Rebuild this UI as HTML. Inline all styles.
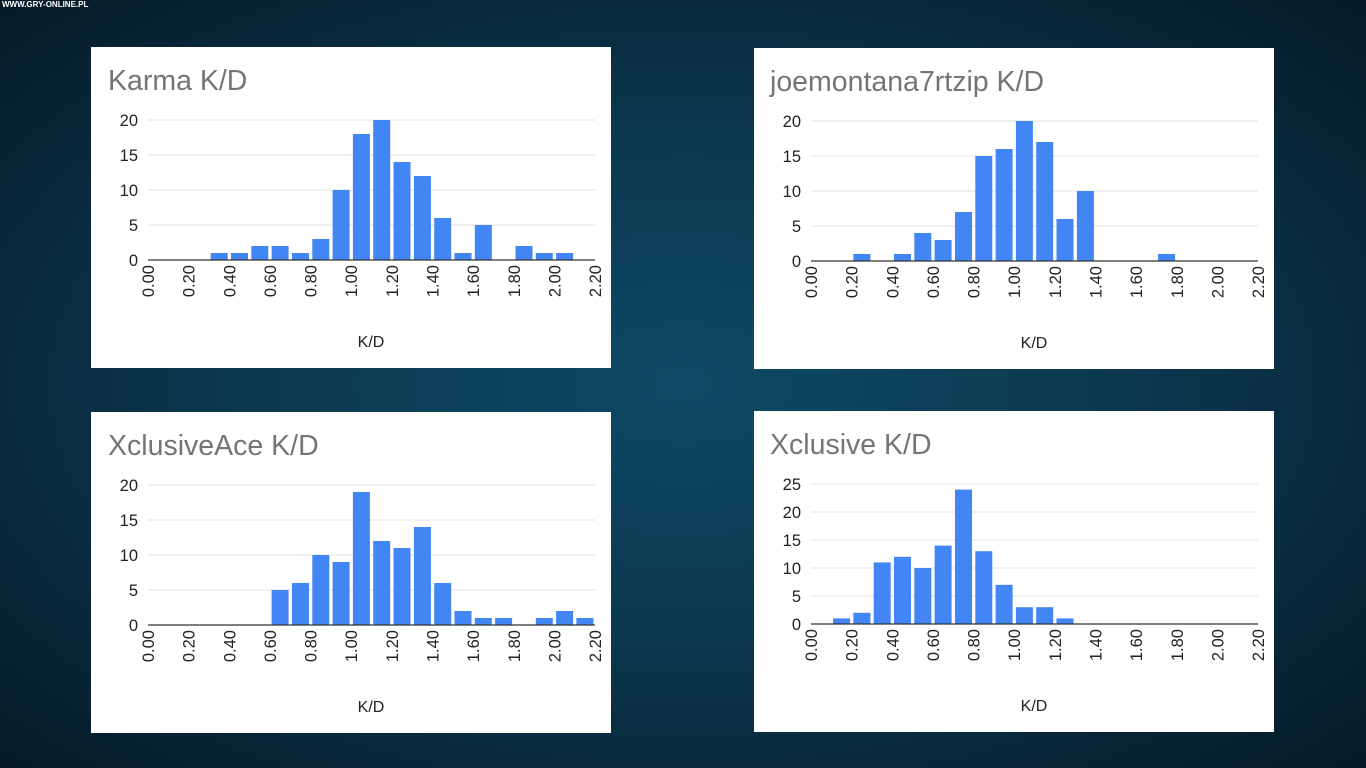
<!DOCTYPE html>
<html><head><meta charset="utf-8"><style>
html,body{margin:0;padding:0;width:1366px;height:768px;overflow:hidden;}
body{background:radial-gradient(ellipse at 50% 50%,#0e4a66 0%,#0b3850 45%,#082536 80%,#061a26 100%);position:relative;font-family:"Liberation Sans",sans-serif;}
.p{position:absolute;width:520px;height:321px;background:#fff;}
svg text{font-family:"Liberation Sans",sans-serif;}
.t{font-size:28.5px;fill:#757575;}
.y{font-size:16.5px;fill:#222;text-anchor:end;}
.x{font-size:16.5px;fill:#222;text-anchor:end;}
.k{font-size:16px;fill:#222;text-anchor:middle;}
.g{stroke:#e0e0e0;stroke-width:1;}
.b rect{fill:#4285f4;}
.wm{position:absolute;left:2px;top:0;font-size:8px;color:#fff;font-weight:bold;}
</style></head><body>
<div class="wm">WWW.GRY-ONLINE.PL</div>

<div class="p" style="left:91px;top:47px;">
<svg width="520" height="321">
<text class="t" x="17" y="43">Karma K/D</text>
<line class="g" x1="57" x2="504" y1="73" y2="73"/><line class="g" x1="57" x2="504" y1="108" y2="108"/><line class="g" x1="57" x2="504" y1="143" y2="143"/><line class="g" x1="57" x2="504" y1="178" y2="178"/>
<text class="y" x="47" y="79">20</text><text class="y" x="47" y="114">15</text><text class="y" x="47" y="149">10</text><text class="y" x="47" y="184">5</text><text class="y" x="47" y="219">0</text>
<g class="b">
<rect x="119.7" y="206" width="17" height="7"/><rect x="140" y="206" width="17" height="7"/><rect x="160.3" y="199" width="17" height="14"/><rect x="180.6" y="199" width="17" height="14"/><rect x="201" y="206" width="17" height="7"/><rect x="221.3" y="192" width="17" height="21"/><rect x="241.6" y="143" width="17" height="70"/><rect x="261.9" y="87" width="17" height="126"/><rect x="282.2" y="73" width="17" height="140"/><rect x="302.5" y="115" width="17" height="98"/><rect x="322.9" y="129" width="17" height="84"/><rect x="343.2" y="171" width="17" height="42"/><rect x="363.5" y="206" width="17" height="7"/><rect x="383.8" y="178" width="17" height="35"/><rect x="424.5" y="199" width="17" height="14"/><rect x="444.8" y="206" width="17" height="7"/><rect x="465.1" y="206" width="17" height="7"/>
</g>
<line x1="57" x2="504" y1="213" y2="213" stroke="#333" stroke-width="1.3"/>
<g class="x">
<text transform="translate(63,218) rotate(-90)">0.00</text><text transform="translate(103.6,218) rotate(-90)">0.20</text><text transform="translate(144.3,218) rotate(-90)">0.40</text><text transform="translate(184.9,218) rotate(-90)">0.60</text><text transform="translate(225.6,218) rotate(-90)">0.80</text><text transform="translate(266.2,218) rotate(-90)">1.00</text><text transform="translate(306.8,218) rotate(-90)">1.20</text><text transform="translate(347.5,218) rotate(-90)">1.40</text><text transform="translate(388.1,218) rotate(-90)">1.60</text><text transform="translate(428.8,218) rotate(-90)">1.80</text><text transform="translate(469.4,218) rotate(-90)">2.00</text><text transform="translate(510,218) rotate(-90)">2.20</text>
</g>
<text class="k" x="280" y="300">K/D</text>
</svg></div>

<div class="p" style="left:754px;top:48px;">
<svg width="520" height="321">
<text class="t" x="16" y="43">joemontana7rtzip K/D</text>
<line class="g" x1="57" x2="504" y1="73" y2="73"/><line class="g" x1="57" x2="504" y1="108" y2="108"/><line class="g" x1="57" x2="504" y1="143" y2="143"/><line class="g" x1="57" x2="504" y1="178" y2="178"/>
<text class="y" x="47" y="79">20</text><text class="y" x="47" y="114">15</text><text class="y" x="47" y="149">10</text><text class="y" x="47" y="184">5</text><text class="y" x="47" y="219">0</text>
<g class="b">
<rect x="99.4" y="206" width="17" height="7"/><rect x="140" y="206" width="17" height="7"/><rect x="160.3" y="185" width="17" height="28"/><rect x="180.6" y="192" width="17" height="21"/><rect x="201" y="164" width="17" height="49"/><rect x="221.3" y="108" width="17" height="105"/><rect x="241.6" y="101" width="17" height="112"/><rect x="261.9" y="73" width="17" height="140"/><rect x="282.2" y="94" width="17" height="119"/><rect x="302.5" y="171" width="17" height="42"/><rect x="322.9" y="143" width="17" height="70"/><rect x="404.1" y="206" width="17" height="7"/>
</g>
<line x1="57" x2="504" y1="213" y2="213" stroke="#333" stroke-width="1.3"/>
<g class="x">
<text transform="translate(63,218) rotate(-90)">0.00</text><text transform="translate(103.6,218) rotate(-90)">0.20</text><text transform="translate(144.3,218) rotate(-90)">0.40</text><text transform="translate(184.9,218) rotate(-90)">0.60</text><text transform="translate(225.6,218) rotate(-90)">0.80</text><text transform="translate(266.2,218) rotate(-90)">1.00</text><text transform="translate(306.8,218) rotate(-90)">1.20</text><text transform="translate(347.5,218) rotate(-90)">1.40</text><text transform="translate(388.1,218) rotate(-90)">1.60</text><text transform="translate(428.8,218) rotate(-90)">1.80</text><text transform="translate(469.4,218) rotate(-90)">2.00</text><text transform="translate(510,218) rotate(-90)">2.20</text>
</g>
<text class="k" x="280" y="300">K/D</text>
</svg></div>

<div class="p" style="left:91px;top:412px;">
<svg width="520" height="321">
<text class="t" x="17" y="43">XclusiveAce K/D</text>
<line class="g" x1="57" x2="504" y1="73" y2="73"/><line class="g" x1="57" x2="504" y1="108" y2="108"/><line class="g" x1="57" x2="504" y1="143" y2="143"/><line class="g" x1="57" x2="504" y1="178" y2="178"/>
<text class="y" x="47" y="79">20</text><text class="y" x="47" y="114">15</text><text class="y" x="47" y="149">10</text><text class="y" x="47" y="184">5</text><text class="y" x="47" y="219">0</text>
<g class="b">
<rect x="180.6" y="178" width="17" height="35"/><rect x="201" y="171" width="17" height="42"/><rect x="221.3" y="143" width="17" height="70"/><rect x="241.6" y="150" width="17" height="63"/><rect x="261.9" y="80" width="17" height="133"/><rect x="282.2" y="129" width="17" height="84"/><rect x="302.5" y="136" width="17" height="77"/><rect x="322.9" y="115" width="17" height="98"/><rect x="343.2" y="171" width="17" height="42"/><rect x="363.5" y="199" width="17" height="14"/><rect x="383.8" y="206" width="17" height="7"/><rect x="404.1" y="206" width="17" height="7"/><rect x="444.8" y="206" width="17" height="7"/><rect x="465.1" y="199" width="17" height="14"/><rect x="485.4" y="206" width="17" height="7"/>
</g>
<line x1="57" x2="504" y1="213" y2="213" stroke="#333" stroke-width="1.3"/>
<g class="x">
<text transform="translate(63,218) rotate(-90)">0.00</text><text transform="translate(103.6,218) rotate(-90)">0.20</text><text transform="translate(144.3,218) rotate(-90)">0.40</text><text transform="translate(184.9,218) rotate(-90)">0.60</text><text transform="translate(225.6,218) rotate(-90)">0.80</text><text transform="translate(266.2,218) rotate(-90)">1.00</text><text transform="translate(306.8,218) rotate(-90)">1.20</text><text transform="translate(347.5,218) rotate(-90)">1.40</text><text transform="translate(388.1,218) rotate(-90)">1.60</text><text transform="translate(428.8,218) rotate(-90)">1.80</text><text transform="translate(469.4,218) rotate(-90)">2.00</text><text transform="translate(510,218) rotate(-90)">2.20</text>
</g>
<text class="k" x="280" y="300">K/D</text>
</svg></div>

<div class="p" style="left:754px;top:411px;">
<svg width="520" height="321">
<text class="t" x="16" y="43">Xclusive K/D</text>
<line class="g" x1="57" x2="504" y1="73" y2="73"/><line class="g" x1="57" x2="504" y1="101" y2="101"/><line class="g" x1="57" x2="504" y1="129" y2="129"/><line class="g" x1="57" x2="504" y1="157" y2="157"/><line class="g" x1="57" x2="504" y1="185" y2="185"/>
<text class="y" x="47" y="79">25</text><text class="y" x="47" y="107">20</text><text class="y" x="47" y="135">15</text><text class="y" x="47" y="163">10</text><text class="y" x="47" y="191">5</text><text class="y" x="47" y="219">0</text>
<g class="b">
<rect x="79" y="207.4" width="17" height="5.6"/><rect x="99.4" y="201.8" width="17" height="11.2"/><rect x="119.7" y="151.4" width="17" height="61.6"/><rect x="140" y="145.8" width="17" height="67.2"/><rect x="160.3" y="157" width="17" height="56"/><rect x="180.6" y="134.6" width="17" height="78.4"/><rect x="201" y="78.6" width="17" height="134.4"/><rect x="221.3" y="140.2" width="17" height="72.8"/><rect x="241.6" y="173.8" width="17" height="39.2"/><rect x="261.9" y="196.2" width="17" height="16.8"/><rect x="282.2" y="196.2" width="17" height="16.8"/><rect x="302.5" y="207.4" width="17" height="5.6"/>
</g>
<line x1="57" x2="504" y1="213" y2="213" stroke="#333" stroke-width="1.3"/>
<g class="x">
<text transform="translate(63,218) rotate(-90)">0.00</text><text transform="translate(103.6,218) rotate(-90)">0.20</text><text transform="translate(144.3,218) rotate(-90)">0.40</text><text transform="translate(184.9,218) rotate(-90)">0.60</text><text transform="translate(225.6,218) rotate(-90)">0.80</text><text transform="translate(266.2,218) rotate(-90)">1.00</text><text transform="translate(306.8,218) rotate(-90)">1.20</text><text transform="translate(347.5,218) rotate(-90)">1.40</text><text transform="translate(388.1,218) rotate(-90)">1.60</text><text transform="translate(428.8,218) rotate(-90)">1.80</text><text transform="translate(469.4,218) rotate(-90)">2.00</text><text transform="translate(510,218) rotate(-90)">2.20</text>
</g>
<text class="k" x="280" y="300">K/D</text>
</svg></div>
</body></html>
